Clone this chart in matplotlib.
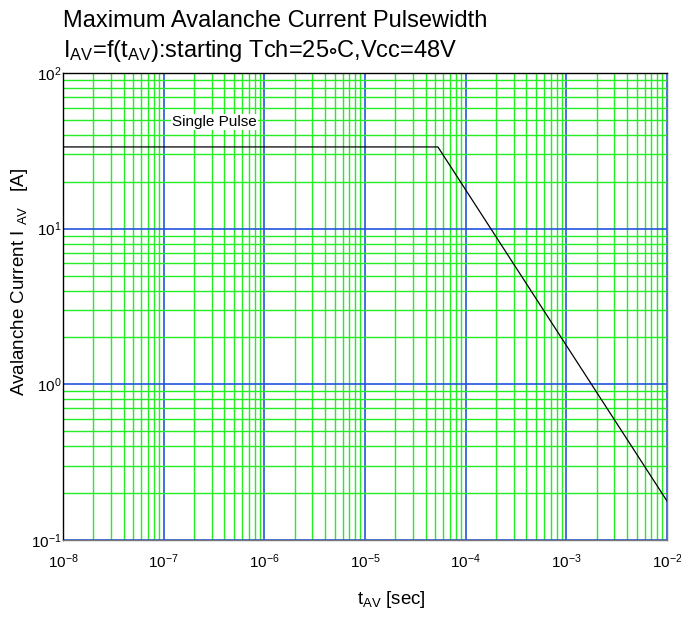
import matplotlib
matplotlib.use("Agg")
import matplotlib.pyplot as plt
from matplotlib.ticker import LogLocator, NullFormatter

plt.rcParams['font.family'] = ['Liberation Sans', 'DejaVu Sans']
plt.rcParams['mathtext.fontset'] = 'custom'
plt.rcParams['mathtext.rm'] = 'Liberation Sans'
plt.rcParams['mathtext.it'] = 'Liberation Sans'
plt.rcParams['mathtext.default'] = 'regular'
plt.rcParams['mathtext.fallback'] = 'stixsans'

# Data
t_av = [1e-8, 5.3e-5, 1e-2]
i_av = [33.5, 33.5, 0.178]
title_lines = ["Maximum Avalanche Current Pulsewidth",
               r"I$_{AV}$=f(t$_{AV}$):starting Tch=25$\circ$C,Vcc=48V"]
legend_label = "Single Pulse"

W, H = 681, 623
fig = plt.figure(figsize=(W/100, H/100), dpi=100)
ax = fig.add_axes([63/W, 1-540/H, (667-63)/W, (540-73)/H])
ax.set_xscale('log')
ax.set_yscale('log')
ax.set_xlim(1e-8, 1e-2)
ax.set_ylim(1e-1, 1e2)

ax.xaxis.set_major_locator(LogLocator(base=10, numticks=20))
ax.yaxis.set_major_locator(LogLocator(base=10, numticks=20))
ax.xaxis.set_minor_locator(LogLocator(base=10, subs=range(2, 10), numticks=100))
ax.yaxis.set_minor_locator(LogLocator(base=10, subs=range(2, 10), numticks=100))
ax.xaxis.set_minor_formatter(NullFormatter())
ax.yaxis.set_minor_formatter(NullFormatter())

ax.grid(which='minor', color='#22ee22', lw=1.0, zorder=0)
ax.grid(which='major', color='#2255dd', lw=1.2, zorder=0)
ax.set_axisbelow(True)
ax.tick_params(which='both', length=0, labelsize=11)
ax.tick_params(axis='x', pad=9)
ax.tick_params(axis='y', pad=1)

for s in ['left', 'top']:
    ax.spines[s].set_color('black')
for s in ['right', 'bottom']:
    ax.spines[s].set_color('#777777')
for s in ax.spines.values():
    s.set_linewidth(1.0)

ax.plot(t_av, i_av, color='black', lw=0.9, zorder=3)

ax.text(1.21e-7, 48.4, legend_label, fontsize=11, ha='left', va='center',
        bbox=dict(facecolor='white', edgecolor='none', pad=1), zorder=4)

fig.text(63/W, 1-27/H, title_lines[0], fontsize=17, ha='left', va='baseline')
fig.text(63/W, 1-57/H, title_lines[1], fontsize=17, ha='left', va='baseline')

fig.text(391/W, 1-600/H, "t$_{AV}$ [sec]", fontsize=13.5, ha='center', va='center')
fig.text(20/W, 1-282/H, "Avalanche Current I $_{AV}$   [A]", fontsize=13.5,
         ha='center', va='center', rotation=90)

fig.savefig("out.png", dpi=100)
